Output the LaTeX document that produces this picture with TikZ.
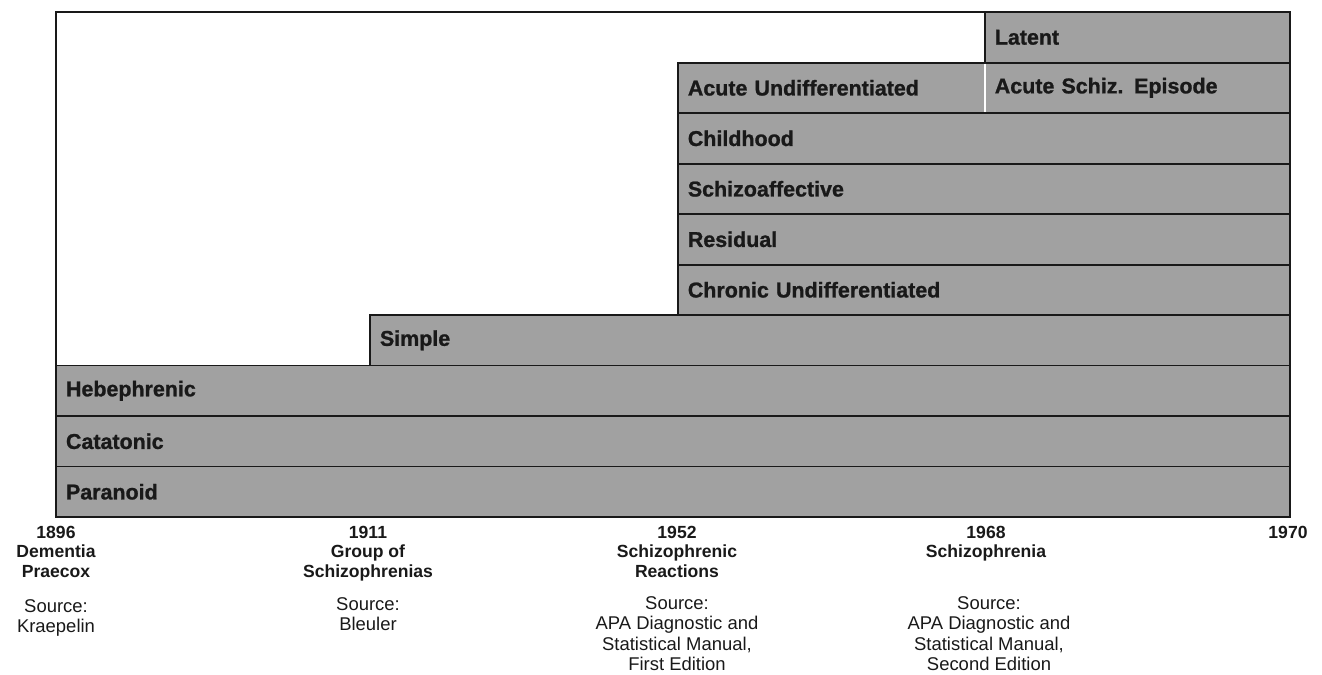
\documentclass[tikz,border=0pt]{standalone}
\usepackage{fontspec}
\setmainfont{Liberation Sans}
\newfontfamily\barfont{Liberation Sans}[BoldFeatures={FakeBold=1.1}]
\usepackage{tikz}
\usetikzlibrary{positioning}
\definecolor{barGray}{gray}{0.63}
\definecolor{inkBlack}{gray}{0.1}

\begin{document}
\begin{tikzpicture}[x=0.02cm,y=-0.02cm,
  bar/.style={draw=inkBlack,line width=1.1pt,fill=barGray,minimum height=1.01cm,inner xsep=0.2cm,inner ysep=0pt,outer sep=0pt,align=left,font=\barfont\bfseries\fontsize{12.2}{14}\selectfont,text=inkBlack},
  era/.style={align=center,inner sep=0pt,anchor=north,font=\bfseries\fontsize{10}{11}\selectfont,text=inkBlack},
  src/.style={align=center,inner sep=0pt,anchor=north,font=\fontsize{10.5}{11.7}\selectfont,text=inkBlack}]
  \useasboundingbox (0,0) rectangle (1322,675);
  % bars, bottom up
  \node[bar,text width=24.28cm,anchor=south west] (paranoid) at (56,517) {Paranoid};
  \node[bar,text width=24.28cm,above=0pt of paranoid] (catatonic) {Catatonic};
  \node[bar,text width=24.28cm,above=0pt of catatonic] (hebephrenic) {Hebephrenic};
  \node[bar,text width=18.0cm,above left=0pt and 0pt of hebephrenic.north east] (simple) {Simple};
  \node[bar,text width=11.84cm,above left=0pt and 0pt of simple.north east] (chronic) {Chronic Undifferentiated};
  \node[bar,text width=11.84cm,above=0pt of chronic] (residual) {Residual};
  \node[bar,text width=11.84cm,above=0pt of residual] (schizoaff) {Schizoaffective};
  \node[bar,text width=11.84cm,above=0pt of schizoaff] (childhood) {Childhood};
  \node[bar,text width=5.74cm,above right=0pt and 0pt of childhood.north west] (acuteundiff) {Acute Undifferentiated};
  \node[bar,text width=5.7cm,right=0pt of acuteundiff] (acuteschiz) {Acute Schiz. Episode};
  \node[bar,text width=5.7cm,above=0pt of acuteschiz] (latent) {Latent};
  \draw[inkBlack,line width=1.1pt] (paranoid.south west) rectangle (latent.north east);
  \draw[white,line width=1.4pt,shorten <=0.6pt,shorten >=0.6pt] (acuteschiz.north west) -- (acuteschiz.south west);
  % time axis labels
  \node[era] (y1896) at (56,526) {1896\\Dementia\\Praecox};
  \node[era] (y1911) at (368,526) {1911\\Group of\\Schizophrenias};
  \node[era] (y1952) at (677,526) {1952\\Schizophrenic\\Reactions};
  \node[era] (y1968) at (986,526) {1968\\Schizophrenia};
  \node[era] (y1970) at (1288,526) {1970};
  \node[src] (s1896) at (56,599) {Source:\\Kraepelin};
  \node[src] (s1911) at (368,597) {Source:\\Bleuler};
  \node[src] (s1952) at (677,596) {Source:\\APA Diagnostic and\\Statistical Manual,\\First Edition};
  \node[src] (s1968) at (989,596) {Source:\\APA Diagnostic and\\Statistical Manual,\\Second Edition};
\end{tikzpicture}
\end{document}
